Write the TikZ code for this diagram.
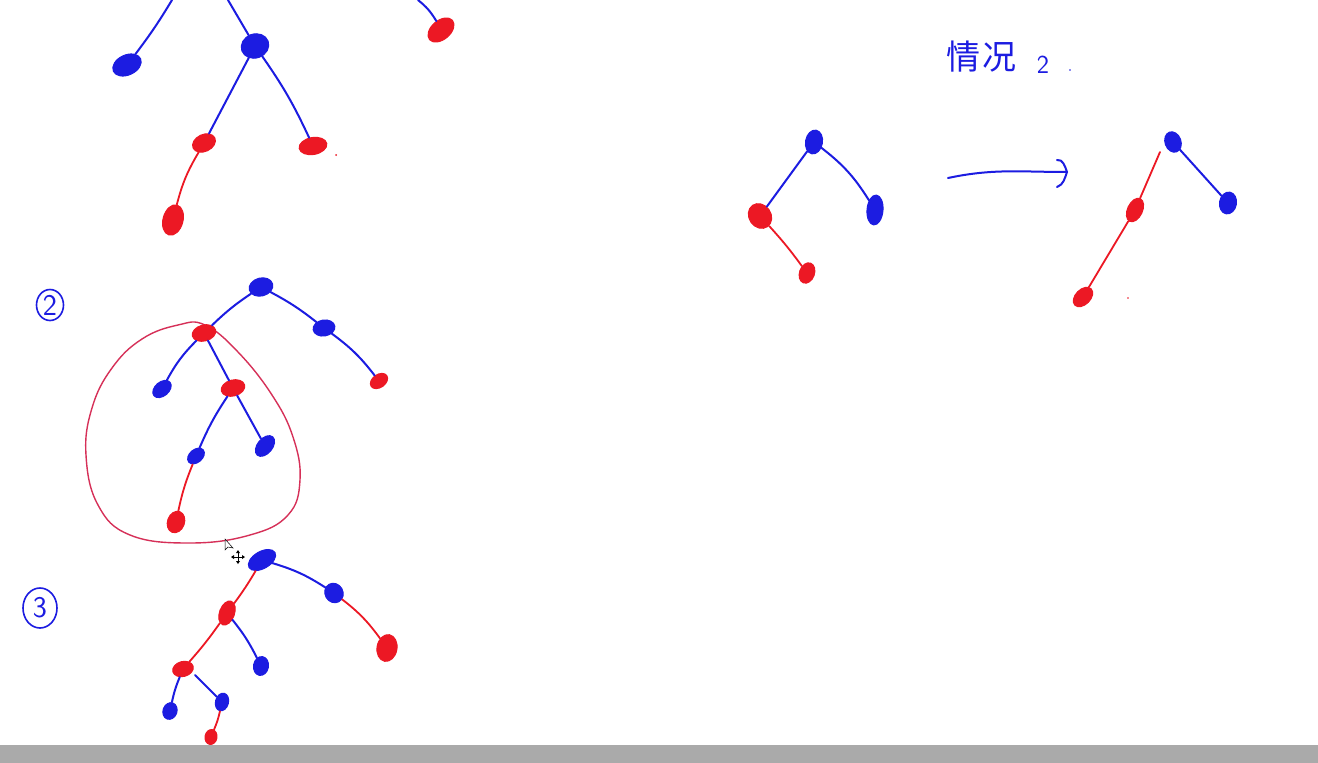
\documentclass[tikz,border=0pt]{standalone}
\usepackage{fontspec}
\newfontfamily\cjkfont{Noto Sans CJK SC}
\usetikzlibrary{shapes.geometric,arrows.meta}
\definecolor{pblue}{RGB}{28,28,225}
\definecolor{pred}{RGB}{236,24,36}
\definecolor{ploop}{RGB}{214,48,88}
\definecolor{barg}{RGB}{170,170,170}
\tikzset{
  bn/.style={ellipse, fill=pblue, draw=pblue, line width=1pt, inner sep=0pt},
  rn/.style={ellipse, fill=pred, draw=pred, line width=1pt, inner sep=0pt},
  be/.style={draw=pblue, line width=2pt, line cap=round},
  re/.style={draw=pred, line width=1.8pt, line cap=round},
  lbl/.style={ellipse, draw=pblue, line width=1.6pt, text=pblue, inner sep=0pt, font=\sffamily\fontsize{30}{30}\selectfont}
}
\begin{document}
\begin{tikzpicture}[x=1pt,y=-1pt]
\useasboundingbox (0,0) rectangle (1318,763);
\fill[white] (0,0) rectangle (1318,763);
\fill[barg] (0,745) rectangle (1318,763);

% ---------- top tree ----------
\coordinate (t1) at (172,0);
\coordinate (t2) at (228,0);
\coordinate (t3) at (418,0);
\node[bn, minimum width=30, minimum height=20, rotate=25] (a1) at (127,65) {};
\node[bn, minimum width=28, minimum height=24, rotate=20] (a2) at (255,46) {};
\node[rn, minimum width=24, minimum height=17, rotate=25] (a3) at (204,143) {};
\node[rn, minimum width=28, minimum height=17, rotate=10] (a4) at (313,146) {};
\node[rn, minimum width=20, minimum height=31, rotate=-15] (a5) at (173,220) {};
\node[rn, minimum width=30, minimum height=19, rotate=40] (a6) at (441,30) {};
\fill[pred] (336,155) circle (1);
\draw[be] (t1) to[bend left=3] (a1);
\draw[be] (t2) -- (a2);
\draw[be] (t3) to[bend left=10] (a6);
\draw[be] (a2) -- (a3);
\draw[be] (a2) to[bend left=5] (a4);
\draw[re] (a3) to[bend right=8] (a5);

% ---------- tree 2 ----------
\node[lbl, minimum width=27, minimum height=31] (l2) at (50,305) {2};
\draw[ploop, line width=1.4pt] plot[smooth cycle, tension=0.7] coordinates {
  (205,325) (238,352) (272,395) (293,437) (300,480) (288,515) (250,535)
  (190,543) (130,535) (98,505) (86,455) (92,408) (112,368) (142,339) (178,325)};
\node[bn, minimum width=24, minimum height=18, rotate=15] (b1) at (261,287) {};
\node[rn, minimum width=24, minimum height=16, rotate=15] (b2) at (204,333) {};
\node[bn, minimum width=22, minimum height=16, rotate=10] (b3) at (324,328) {};
\node[rn, minimum width=19, minimum height=13, rotate=35] (b4) at (379,381) {};
\node[bn, minimum width=21, minimum height=14, rotate=40] (b5) at (162,389) {};
\node[rn, minimum width=24, minimum height=16, rotate=15] (b6) at (233,388) {};
\node[bn, minimum width=19, minimum height=13, rotate=40] (b7) at (196,456) {};
\node[bn, minimum width=24, minimum height=15, rotate=50] (b8) at (265,446) {};
\node[rn, minimum width=17, minimum height=22, rotate=-20] (b9) at (176,522) {};
\draw[be] (b1) to[bend right=5] (b2);
\draw[be] (b1) to[bend left=5] (b3);
\draw[be] (b3) to[bend left=8] (b4);
\draw[be] (b2) to[bend right=8] (b5);
\draw[be] (b2) -- (b6);
\draw[be] (b6) to[bend right=5] (b7);
\draw[be] (b6) -- (b8);
\draw[re] (b7) to[bend right=5] (b9);

% cursor marks
\draw[black, line width=0.5pt, fill=white] (225,539) -- (225,550) -- (228,547) -- (233,548) -- cycle;
\draw[black, line width=0.8pt] (233,557) -- (243,557) (238,552) -- (238,562);
\fill[black] (231,557) -- (234,555) -- (234,559) -- cycle;
\fill[black] (245,557) -- (242,555) -- (242,559) -- cycle;
\fill[black] (238,550) -- (236,553) -- (240,553) -- cycle;
\fill[black] (238,564) -- (236,561) -- (240,561) -- cycle;

% ---------- tree 3 ----------
\node[lbl, minimum width=34, minimum height=40] (l3) at (40,608) {3};
\node[bn, minimum width=30, minimum height=17, rotate=30] (c1) at (262,560) {};
\node[bn, minimum width=18, minimum height=20, rotate=30] (c2) at (334,593) {};
\node[rn, minimum width=20, minimum height=27, rotate=-10] (c3) at (387,648) {};
\node[rn, minimum width=15, minimum height=25, rotate=-20] (c4) at (227,613) {};
\node[rn, minimum width=21, minimum height=15, rotate=15] (c5) at (183,669) {};
\node[bn, minimum width=15, minimum height=19, rotate=-10] (c6) at (261,666) {};
\node[bn, minimum width=14, minimum height=17, rotate=-20] (c7) at (170,711) {};
\node[bn, minimum width=13, minimum height=18, rotate=-15] (c8) at (222,702) {};
\node[rn, minimum width=12, minimum height=15, rotate=-10] (c9) at (211,737) {};
\draw[re] (c1) to[bend left=3] (c4);
\draw[be] (c1) to[bend left=8] (c2);
\draw[re] (c2) to[bend left=8] (c3);
\draw[re] (c4) to[bend left=3] (c5);
\draw[be] (c4) to[bend left=6] (c6);
\draw[be] (c5) to[bend right=5] (c7);
\coordinate (c5b) at (195,675);
\draw[be] (c5b) -- (c8);
\draw[re] (c8) to[bend left=5] (c9);

% ---------- right: case 2 ----------
\node[text=pblue, font=\cjkfont\fontsize{34}{34}\selectfont, inner sep=0pt, anchor=west] (title) at (946,57) {情\kern2pt况};
\node[text=pblue, font=\sffamily\fontsize{26}{26}\selectfont, inner sep=0pt] (two) at (1043,65) {2};
\fill[pblue] (1070,70) circle (0.8);

\node[bn, minimum width=17, minimum height=24, rotate=-10] (d1) at (814,142) {};
\node[rn, minimum width=22, minimum height=26, rotate=35] (d2) at (760,216) {};
\node[bn, minimum width=16, minimum height=30, rotate=-5] (d3) at (875,210) {};
\node[rn, minimum width=15, minimum height=21, rotate=-20] (d4) at (807,273) {};
\draw[be] (d1) -- (d2);
\draw[be] (d1) to[bend left=10] (d3);
\draw[re] (d2) to[bend left=3] (d4);

\coordinate (arS) at (948,178);
\coordinate (arE) at (1067,172);
\draw[draw=pblue, line width=2pt, line cap=round] (arS) to[out=12, in=180] (arE);
\draw[draw=pblue, line width=2pt, line cap=round, line join=round] (1057,160) to[out=10, in=110] (arE) to[out=-110, in=20] (1057,187);

\node[bn, minimum width=16, minimum height=21, rotate=20] (e1) at (1173,142) {};
\node[rn, minimum width=15, minimum height=25, rotate=-25] (e2) at (1135,210) {};
\node[bn, minimum width=17, minimum height=22, rotate=-10] (e3) at (1228,203) {};
\node[rn, minimum width=15, minimum height=23, rotate=-45] (e4) at (1083,297) {};
\coordinate (e1s) at (1160,152);
\draw[re] (e1s) -- (e2);
\draw[be] (e1) -- (e3);
\draw[re] (e2) -- (e4);
\fill[pred] (1128,298) circle (0.8);
\end{tikzpicture}
\end{document}
